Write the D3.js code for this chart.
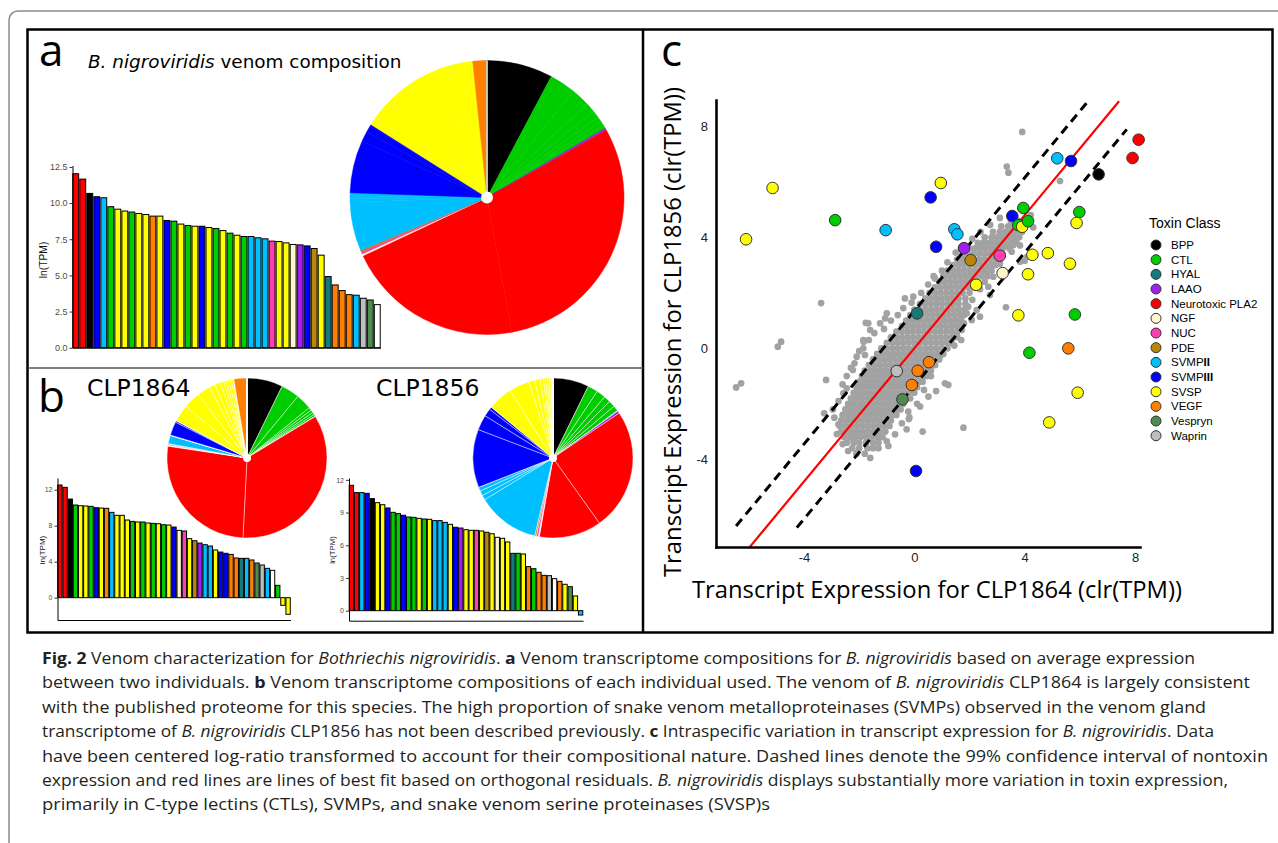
<!DOCTYPE html>
<html><head><meta charset="utf-8">
<script src="https://cdn.jsdelivr.net/npm/d3@7"></script>
<style>body{margin:0;background:#fff}svg{display:block}</style>
</head><body>
<svg id="fig" width="1278" height="843"></svg>
<script>
// ---------------- DATA ----------------
const classOrder = ["BPP","CTL","HYAL","LAAO","PLA2","NGF","NUC","PDE","SVMPII","SVMPIII","SVSP","VEGF","Vespryn","Waprin","Other"];
const legendKeys   = ["BPP","CTL","HYAL","LAAO","PLA2","NGF","NUC","PDE","SVMPII","SVMPIII","SVSP","VEGF","Vespryn","Waprin"];
const legendLabels = ["BPP","CTL","HYAL","LAAO","Neurotoxic PLA2","NGF","NUC","PDE","SVMP","SVMP","SVSP","VEGF","Vespryn","Waprin"];
const legendSuffix = ["","","","","","","","","II","III","","","",""];

// panel a: mean ln(TPM) per toxin transcript
const meanClasses = ["PLA2","PLA2","BPP","SVMPIII","SVMPII","CTL","SVSP","SVSP","CTL","SVSP","SVSP","VEGF","SVSP","SVMPIII","CTL","SVSP","CTL","SVSP","SVMPIII","SVSP","CTL","SVSP","CTL","SVSP","CTL","SVMPII","SVMPII","SVMPII","NUC","SVSP","SVSP","NGF","LAAO","SVMPIII","PDE","SVSP","HYAL","VEGF","VEGF","VEGF","SVMPII","Waprin","Vespryn","Other"];
const meanValues  = [12.03,11.66,10.67,10.44,10.37,9.75,9.58,9.45,9.38,9.28,9.21,9.10,9.10,8.80,8.75,8.55,8.45,8.40,8.40,8.31,8.24,8.10,7.92,7.78,7.69,7.69,7.60,7.53,7.37,7.34,7.25,7.14,7.11,7.04,6.86,6.40,4.92,4.34,3.95,3.67,3.63,3.42,3.30,2.98];

// panel b: CLP1864
const clp1864Classes = ["PLA2","PLA2","BPP","CTL","SVSP","SVSP","CTL","SVMPIII","SVSP","VEGF","SVMPII","SVSP","SVSP","SVSP","CTL","SVSP","CTL","SVSP","CTL","SVSP","CTL","SVSP","SVMPIII","NGF","NUC","SVSP","PDE","LAAO","SVMPII","SVMPII","SVSP","SVMPIII","SVMPIII","VEGF","VEGF","HYAL","SVMPII","VEGF","Vespryn","Waprin","SVMPII","Other","CTL","SVSP","SVSP"];
const clp1864Values  = [12.52,12.26,10.96,10.30,10.22,10.19,10.15,10.00,9.96,9.93,9.48,9.15,9.15,8.63,8.48,8.41,8.41,8.30,8.26,8.22,8.11,8.07,7.85,7.48,7.41,6.56,6.33,6.07,5.89,5.74,5.30,5.07,4.93,4.81,4.41,4.37,4.37,4.19,3.85,3.63,3.26,3.04,1.37,-0.85,-1.85];

// panel b: CLP1856
const clp1856Classes = ["PLA2","PLA2","SVMPII","SVMPIII","BPP","SVSP","SVSP","SVMPIII","CTL","CTL","SVMPIII","CTL","CTL","SVSP","CTL","SVSP","SVMPII","SVMPII","SVMPII","SVSP","SVMPIII","LAAO","SVSP","SVSP","NUC","SVSP","PDE","SVSP","NGF","SVSP","SVSP","HYAL","CTL","SVSP","VEGF","CTL","VEGF","VEGF","Waprin","Other","VEGF","SVSP","Vespryn","SVSP","SVMPII"];
const clp1856Values  = [11.50,10.83,10.83,10.76,10.28,9.91,9.72,9.42,9.02,8.90,8.75,8.59,8.56,8.47,8.41,8.38,8.26,8.26,8.10,7.92,7.65,7.58,7.43,7.37,7.37,7.31,7.19,7.06,6.73,6.64,6.30,5.26,5.26,5.20,4.04,3.85,3.52,3.24,3.21,2.94,2.69,2.42,2.20,1.35,-0.40];

// panel c: toxin transcripts (clr TPM)
const toxinX = [-6.10,-5.14,-2.87,-1.04,0.96,0.59,0.79,1.45,1.56,1.80,2.04,3.10,3.20,2.24,3.55,3.95,3.77,3.91,4.12,5.18,5.68,6.68,7.91,8.13,5.98,5.88,4.28,4.84,5.64,4.12,3.77,5.82,0.10,4.17,5.58,5.92,4.89,0.06,-0.64,0.12,0.53,-0.09,-0.43];
const toxinY = [3.93,5.78,4.62,4.26,5.96,5.44,3.66,4.29,4.11,3.61,3.18,3.34,2.71,2.29,4.77,5.06,4.44,4.38,4.58,6.85,6.75,6.27,6.86,7.52,4.91,4.52,3.37,3.43,3.05,2.67,1.19,1.22,1.26,-0.16,0.00,-1.60,-2.67,-4.42,-0.82,-0.81,-0.50,-1.32,-1.84];
const toxinClass = ["SVSP","SVSP","CTL","SVMPII","SVSP","SVMPIII","SVMPIII","SVMPII","SVMPII","LAAO","PDE","NUC","NGF","SVSP","SVMPIII","CTL","CTL","SVSP","CTL","SVMPII","SVMPIII","BPP","PLA2","PLA2","CTL","SVSP","SVSP","SVSP","SVSP","SVSP","SVSP","CTL","HYAL","CTL","VEGF","SVSP","SVSP","SVMPIII","Waprin","VEGF","VEGF","VEGF","Vespryn"];

// panel c: nontoxin transcripts, dense band read row by row: [y, [x...]]
const nontoxinRows = [
 [-3.8,[-2.1,-1.8]],
 [-3.6,[-2.25,-2.0,-1.7,-1.5]],
 [-3.4,[-2.45,-2.2,-2.0,-1.75,-1.5,-1.3]],
 [-3.2,[-2.55,-2.35,-2.15,-1.95,-1.75,-1.55,-1.35,-1.15]],
 [-3.0,[-2.65,-2.45,-2.25,-2.05,-1.85,-1.65,-1.45,-1.25,-1.05]],
 [-2.8,[-2.7,-2.5,-2.3,-2.1,-1.9,-1.7,-1.5,-1.3,-1.1,-0.9]],
 [-2.6,[-2.65,-2.45,-2.25,-2.05,-1.85,-1.65,-1.45,-1.25,-1.05,-0.85]],
 [-2.4,[-2.6,-2.4,-2.2,-2.0,-1.8,-1.6,-1.4,-1.2,-1.0,-0.8,-0.65]],
 [-2.2,[-2.5,-2.3,-2.1,-1.9,-1.7,-1.5,-1.3,-1.1,-0.9,-0.7,-0.5]],
 [-2.0,[-2.4,-2.2,-2.0,-1.8,-1.6,-1.4,-1.2,-1.0,-0.8,-0.6,-0.4]],
 [-1.8,[-2.3,-2.1,-1.9,-1.7,-1.5,-1.3,-1.1,-0.9,-0.7,-0.5,-0.3,-0.15]],
 [-1.6,[-2.2,-2.0,-1.8,-1.6,-1.4,-1.2,-1.0,-0.8,-0.6,-0.4,-0.2,0.0]],
 [-1.4,[-2.1,-1.9,-1.7,-1.5,-1.3,-1.1,-0.9,-0.7,-0.5,-0.3,-0.1,0.1]],
 [-1.2,[-2.0,-1.8,-1.6,-1.4,-1.2,-1.0,-0.8,-0.6,-0.4,-0.2,0.0,0.2,0.3]],
 [-1.0,[-1.9,-1.7,-1.5,-1.3,-1.1,-0.9,-0.7,-0.5,-0.3,-0.1,0.1,0.3,0.45]],
 [-0.8,[-1.8,-1.6,-1.4,-1.2,-1.0,-0.8,-0.6,-0.4,-0.2,0.0,0.2,0.4,0.6]],
 [-0.6,[-1.65,-1.45,-1.25,-1.05,-0.85,-0.65,-0.45,-0.25,-0.05,0.15,0.35,0.55,0.75]],
 [-0.4,[-1.5,-1.3,-1.1,-0.9,-0.7,-0.5,-0.3,-0.1,0.1,0.3,0.5,0.7,0.9]],
 [-0.2,[-1.35,-1.15,-0.95,-0.75,-0.55,-0.35,-0.15,0.05,0.25,0.45,0.65,0.85,1.05]],
 [0.0,[-1.2,-1.0,-0.8,-0.6,-0.4,-0.2,0.0,0.2,0.4,0.6,0.8,1.0,1.2]],
 [0.2,[-1.0,-0.8,-0.6,-0.4,-0.2,0.0,0.2,0.4,0.6,0.8,1.0,1.2,1.35]],
 [0.4,[-0.85,-0.65,-0.45,-0.25,-0.05,0.15,0.35,0.55,0.75,0.95,1.15,1.35,1.5]],
 [0.6,[-0.65,-0.45,-0.25,-0.05,0.15,0.35,0.55,0.75,0.95,1.15,1.35,1.55]],
 [0.8,[-0.45,-0.25,-0.05,0.15,0.35,0.55,0.75,0.95,1.15,1.35,1.55,1.7]],
 [1.0,[-0.3,-0.1,0.1,0.3,0.5,0.7,0.9,1.1,1.3,1.5,1.7]],
 [1.2,[-0.15,0.05,0.25,0.45,0.65,0.85,1.05,1.25,1.45,1.65,1.8]],
 [1.4,[0.0,0.2,0.4,0.6,0.8,1.0,1.2,1.4,1.6,1.8]],
 [1.6,[0.2,0.4,0.6,0.8,1.0,1.2,1.4,1.6,1.85]],
 [1.8,[0.4,0.6,0.8,1.0,1.2,1.4,1.6,1.85]],
 [2.0,[0.55,0.75,0.95,1.15,1.35,1.55,1.75,2.0]],
 [2.2,[0.75,0.95,1.15,1.35,1.55,1.75,1.95,2.15,2.35]],
 [2.4,[0.9,1.1,1.3,1.5,1.7,1.9,2.1,2.3,2.55]],
 [2.6,[1.05,1.25,1.45,1.65,1.85,2.05,2.25,2.45,2.65]],
 [2.8,[1.2,1.4,1.6,1.8,2.0,2.2,2.4,2.6,2.8]],
 [3.0,[1.4,1.6,1.8,2.0,2.2,2.4,2.6,2.8,2.95]],
 [3.2,[1.55,1.75,1.95,2.15,2.35,2.55,2.75,2.95,3.1]],
 [3.4,[1.75,1.95,2.15,2.35,2.55,2.75,2.95,3.2]],
 [3.6,[2.0,2.2,2.4,2.6,2.8,3.0,3.2,3.45]],
 [3.8,[2.3,2.5,2.7,2.9,3.1,3.3,3.5,3.7]],
 [4.0,[2.55,2.8,3.0,3.2,3.4,3.6,3.8]],
 [4.2,[2.85,3.1,3.3,3.5,3.7,3.9]],
 [4.4,[3.15,3.4,3.6,3.8,4.0]],
 [4.6,[3.5,3.75,4.0]]
];
// scattered nontoxins around the band edges and far outliers: [x, y]
const nontoxinOutliers = [
 [3.91,7.8],[3.35,6.55],[3.41,6.33],[5.28,6.03],[-3.38,1.63],[-4.83,0.24],[-4.95,0.06],
 [-1.76,0.92],[-1.85,0.3],[3.32,1.48],[4.0,3.16],[3.59,3.72],[3.83,3.71],[3.53,3.48],[4.31,4.36],[4.22,4.8],
 [2.86,2.58],[2.68,2.22],[2.38,2.13],[2.74,1.92],[1.9,1.26],[2.08,1.02],[2.38,1.14],[0.75,2.52],[-0.04,1.86],[-0.34,1.8],
 [-1.0,1.26],[-1.06,1.08],[-1.67,0.9],[-1.85,0.0],[-2.09,-3.78],[-0.94,-3.52],[-2.21,-3.3],[-1.24,-3.19],[-0.28,-2.92],[0.3,-3.0],
 [1.78,-2.86],[-0.18,-2.49],[-2.81,-3.09],[-2.75,-2.74],[-3.27,-2.34],[-3.2,-1.14],[-2.45,-1.44],[-2.17,-0.54],[-1.79,-0.24],
 [-6.46,-1.41],[-6.28,-1.26],[1.11,-1.26],[1.23,-1.32],[0.79,-1.54],[0.51,-1.74],[1.72,0.66],[2.26,1.38],[0.21,-2.1],[-0.22,-2.28],
 [-1.6,0.66],[-1.24,0.9],[-2.09,-0.3],[-2.23,-0.78],[-2.57,-1.62],[3.17,2.64],[3.83,3.12],[4.09,3.3],[-1.84,0.24],
 [-2.9,-2.5],[-2.95,-2.2],[-2.75,-1.9],[-2.6,-1.3],[-2.45,-1.0],[-2.3,-0.7],[-2.0,-0.1],[-1.65,0.3],[-1.45,0.55],[-1.1,0.7],
 [-0.85,1.0],[-0.6,1.2],[-0.4,1.45],[-0.1,1.65],[0.25,2.0],[0.5,2.3],[0.7,2.6],[1.0,2.8],[1.2,3.1],[1.5,3.45],[1.8,3.7],
 [2.1,3.95],[2.4,4.2],[2.75,4.45],[3.1,4.7],[3.5,4.85],
 [1.45,0.1],[1.55,0.45],[1.7,0.3],[1.8,0.9],[1.95,1.5],[2.1,1.75],[2.2,2.45],[2.6,2.9],[2.85,3.3],[3.1,3.05],[3.35,3.7],
 [3.65,3.95],[3.9,4.2],[4.05,4.5],[0.6,-1.0],[0.75,-0.6],[0.95,-0.25],[0.35,-1.5],[0.1,-2.0],[-0.2,-2.55],[-0.45,-2.7],
 [-0.7,-3.1],[-1.0,-3.35],[-1.3,-3.6],[-1.6,-3.95],[-2.4,-3.7],[-2.6,-3.45]
];
// orthogonal-residual fit and 99% CI of nontoxins
const fitSlope = 1.2, fitIntercept = 0, ciHalfWidth = 1.35;
const fitXRange = [-5.97, 7.42], ciUpperXRange = [-6.46, 6.3], ciLowerXRange = [-4.26, 7.7];

// tick labels
const aTicks = [0, 2.5, 5, 7.5, 10, 12.5];
const b1Ticks = [0, 4, 8, 12];
const b2Ticks = [0, 3, 6, 9, 12];
const cTicks = [-4, 0, 4, 8];

// ---------------- STYLE ----------------
const palette = {BPP:"#000000",CTL:"#00cd00",HYAL:"#137b7b",LAAO:"#a020f0",PLA2:"#ff0000",NGF:"#fff6cc",NUC:"#ff3eb5",PDE:"#b8860b",SVMPII:"#00bfff",SVMPIII:"#0000ff",SVSP:"#ffff00",VEGF:"#ff7f00",Vespryn:"#4f8a4f",Waprin:"#bebebe",Other:"#ffffff"};
const SANS = "'Liberation Sans', Arial, sans-serif";
const OPEN = "'Open Sans', 'Noto Sans', sans-serif";
const DEJA = "'DejaVu Sans', sans-serif";

const svg = d3.select("#fig");

// frames
svg.append("rect").attr("x",9).attr("y",11).attr("width",1330).attr("height",900).attr("rx",9)
  .attr("fill","none").attr("stroke","#8a8a8a").attr("stroke-width",1.5);
svg.append("rect").attr("x",27.5).attr("y",29.5).attr("width",1245).attr("height",603)
  .attr("fill","none").attr("stroke","#000").attr("stroke-width",2.5);
svg.append("line").attr("x1",643).attr("x2",643).attr("y1",29.5).attr("y2",632.5).attr("stroke","#000").attr("stroke-width",2.5);
svg.append("line").attr("x1",28).attr("x2",643).attr("y1",368).attr("y2",368).attr("stroke","#555").attr("stroke-width",1.5);

// ---------------- BAR CHARTS ----------------
function barChart(values, classes, x0, x1, yDomain, yRange, ticks, fmt, tickFont, labelX, labelY, labelFont) {
  const g = svg.append("g");
  const x = d3.scaleBand().domain(d3.range(values.length)).range([x0, x1]).paddingInner(0.16).paddingOuter(0.04);
  const y = d3.scaleLinear().domain(yDomain).range(yRange);
  g.selectAll("rect").data(values).join("rect")
    .attr("x",(d,i)=>x(i)).attr("width",x.bandwidth())
    .attr("y",d=>y(Math.max(0,d))).attr("height",d=>Math.abs(y(d)-y(0)))
    .attr("fill",(d,i)=>palette[classes[i]]).attr("stroke","#000").attr("stroke-width",1);
  const ay = g.append("g").attr("transform",`translate(${x0},0)`)
    .call(d3.axisLeft(y).tickValues(ticks).tickFormat(fmt).tickSize(3).tickSizeOuter(0).tickPadding(2));
  ay.selectAll("text").attr("font-family",SANS).attr("font-size",tickFont).attr("fill","#4d4d4d");
  ay.selectAll("line").attr("stroke","#333");
  ay.select(".domain").attr("stroke","#000").attr("stroke-width",1);
  const ax = g.append("g").attr("transform",`translate(0,${yRange[0]})`)
    .call(d3.axisBottom(x).tickValues([]).tickSizeOuter(0));
  ax.select(".domain").attr("stroke","#000").attr("stroke-width",1);
  g.append("text").attr("transform",`translate(${labelX},${labelY}) rotate(-90)`)
    .attr("text-anchor","middle").attr("dy","0.35em").attr("font-family",SANS).attr("font-size",labelFont)
    .attr("fill","#111").text("ln(TPM)");
}
barChart(meanValues, meanClasses, 72.5, 380.5, [0, 12.6], [347.7, 165.5], aTicks, d3.format(".1f"), 9, 43.3, 260, 10.3);
barChart(clp1864Values, clp1864Classes, 57.5, 290.5, [-2.48, 13.3], [620, 478], b1Ticks, d3.format("d"), 7, 42.3, 550, 8);
barChart(clp1856Values, clp1856Classes, 349, 583, [-0.92, 12.17], [620.7, 478], b2Ticks, d3.format("d"), 7, 332, 550, 7.8);

// ---------------- PIES ----------------
function pieChart(values, classes, cx, cy, r, sep, holeR) {
  const items = values.map((v,i)=>({v, c:classes[i]}))
    .sort((a,b)=> classOrder.indexOf(a.c)-classOrder.indexOf(b.c) || b.v-a.v);
  const pie = d3.pie().sort(null).value(d=>Math.exp(d.v));
  const arc = d3.arc().innerRadius(0).outerRadius(r);
  const g = svg.append("g").attr("transform",`translate(${cx},${cy})`);
  g.selectAll("path").data(pie(items)).join("path").attr("d",arc)
    .attr("fill",d=>palette[d.data.c])
    .attr("stroke",d=> sep ? "#fff" : palette[d.data.c]).attr("stroke-width", sep ? 0.45 : 0.5);
  g.append("circle").attr("r",holeR).attr("fill","#fff");
}
pieChart(meanValues, meanClasses, 487, 197.5, 137, false, 6);
pieChart(clp1864Values, clp1864Classes, 247, 458, 80, true, 4);
pieChart(clp1856Values, clp1856Classes, 553, 458, 80, true, 4);

// ---------------- SCATTER ----------------
const xC = d3.scaleLinear().domain([-7.19, 8.18]).range([716, 1140]);
const yC = d3.scaleLinear().domain([-7.16, 8.95]).range([547, 100]);
const gc = svg.append("g");
const grayPts = nontoxinRows.flatMap(([y, xs]) => xs.map(x => [x, y])).concat(nontoxinOutliers);
gc.selectAll("circle.nt").data(grayPts).join("circle").attr("class","nt")
  .attr("cx",d=>xC(d[0])).attr("cy",d=>yC(d[1])).attr("r",3.35).attr("fill","#a2a2a2");

const ln = d3.line().x(d=>xC(d[0])).y(d=>yC(d[1]));
const seg = (xr, off) => xr.map(x => [x, fitSlope*x + fitIntercept + off]);
gc.append("path").attr("d",ln(seg(ciUpperXRange, ciHalfWidth))).attr("fill","none").attr("stroke","#000").attr("stroke-width",3).attr("stroke-dasharray","9,6");
gc.append("path").attr("d",ln(seg(ciLowerXRange, -ciHalfWidth))).attr("fill","none").attr("stroke","#000").attr("stroke-width",3).attr("stroke-dasharray","9,6");
gc.append("path").attr("d",ln(seg(fitXRange, 0))).attr("fill","none").attr("stroke","#ff0000").attr("stroke-width",2.2);

gc.selectAll("circle.tx").data(toxinX).join("circle").attr("class","tx")
  .attr("cx",(d,i)=>xC(toxinX[i])).attr("cy",(d,i)=>yC(toxinY[i])).attr("r",5.8)
  .attr("fill",(d,i)=>palette[toxinClass[i]]).attr("stroke","#333").attr("stroke-width",1);

const fmtC = d => d < 0 ? "-" + Math.abs(d) : String(d);
const axL = gc.append("g").attr("transform","translate(716,0)")
  .call(d3.axisLeft(yC).tickValues(cTicks).tickFormat(fmtC).tickSize(0).tickSizeOuter(0).tickPadding(8));
const axB = gc.append("g").attr("transform","translate(0,547)")
  .call(d3.axisBottom(xC).tickValues(cTicks).tickFormat(fmtC).tickSize(0).tickSizeOuter(0).tickPadding(6));
[axL, axB].forEach(a => {
  a.select(".domain").attr("stroke","#000").attr("stroke-width",2.6).attr("stroke-linecap","square");
  a.selectAll("text").attr("font-family",SANS).attr("font-size",13).attr("fill","#222");
});
gc.append("text").attr("x",937).attr("y",598).attr("text-anchor","middle")
  .attr("font-family",OPEN).attr("font-size",23.8).attr("fill","#000")
  .text("Transcript Expression for CLP1864 (clr(TPM))");
gc.append("text").attr("transform","translate(681,332) rotate(-90)").attr("text-anchor","middle")
  .attr("font-family",OPEN).attr("font-size",23.8).attr("fill","#000")
  .text("Transcript Expression for CLP1856 (clr(TPM))");

// legend
const lg = svg.append("g");
lg.append("text").attr("x",1149).attr("y",228).attr("font-family",SANS).attr("font-size",14).attr("fill","#000").text("Toxin Class");
legendKeys.forEach((k,i) => {
  const cy = 245 + i*14.67;
  lg.append("circle").attr("cx",1156).attr("cy",cy).attr("r",5).attr("fill",palette[k]).attr("stroke","#333").attr("stroke-width",1);
  const t = lg.append("text").attr("x",1171).attr("y",cy+4).attr("font-family",SANS).attr("font-size",11.5).attr("fill","#000");
  t.append("tspan").text(legendLabels[i]);
  if (legendSuffix[i]) t.append("tspan").attr("font-weight","bold").text(legendSuffix[i]);
});

// ---------------- PANEL LABELS & TITLES ----------------
const lab = (x,y,s) => svg.append("text").attr("x",x).attr("y",y).attr("font-family",OPEN).attr("font-size",44).attr("fill","#000").text(s);
lab(39,66,"a"); lab(38,412,"b"); lab(661,66,"c");
const tt = svg.append("text").attr("x",88).attr("y",68).attr("font-family",DEJA).attr("font-size",18.4).attr("fill","#000");
tt.append("tspan").attr("font-style","italic").text("B. nigroviridis");
tt.append("tspan").text(" venom composition");
svg.append("text").attr("x",87).attr("y",395.5).attr("font-family",DEJA).attr("font-size",23.5).attr("fill","#000").text("CLP1864");
svg.append("text").attr("x",376).attr("y",395.5).attr("font-family",DEJA).attr("font-size",23.5).attr("fill","#000").text("CLP1856");

// ---------------- CAPTION ----------------
const capLines = [
 [["b","Fig. 2"],["n"," Venom characterization for "],["i","Bothriechis nigroviridis"],["n",". "],["b","a"],["n"," Venom transcriptome compositions for "],["i","B. nigroviridis"],["n"," based on average expression"]],
 [["n","between two individuals. "],["b","b"],["n"," Venom transcriptome compositions of each individual used. The venom of "],["i","B. nigroviridis"],["n"," CLP1864 is largely consistent"]],
 [["n","with the published proteome for this species. The high proportion of snake venom metalloproteinases (SVMPs) observed in the venom gland"]],
 [["n","transcriptome of "],["i","B. nigroviridis"],["n"," CLP1856 has not been described previously. "],["b","c"],["n"," Intraspecific variation in transcript expression for "],["i","B. nigroviridis"],["n",". Data"]],
 [["n","have been centered log-ratio transformed to account for their compositional nature. Dashed lines denote the 99% confidence interval of nontoxin"]],
 [["n","expression and red lines are lines of best fit based on orthogonal residuals. "],["i","B. nigroviridis"],["n"," displays substantially more variation in toxin expression,"]],
 [["n","primarily in C-type lectins (CTLs), SVMPs, and snake venom serine proteinases (SVSP)s"]]
];
const capEnds = [1195, 1250, 1206, 1214, 1268, 1228, 770];
const capX = 42;
capLines.forEach((parts, i) => {
  const t = svg.append("text").attr("x",capX).attr("y",664 + i*24.4)
    .attr("font-family",OPEN).attr("font-size",16).attr("fill","#231f20")
    .attr("textLength",capEnds[i]-capX).attr("lengthAdjust","spacingAndGlyphs");
  parts.forEach(([s, str]) => {
    const sp = t.append("tspan").text(str);
    if (s === "b") sp.attr("font-weight","bold");
    if (s === "i") sp.attr("font-style","italic");
  });
});
</script>
</body></html>
